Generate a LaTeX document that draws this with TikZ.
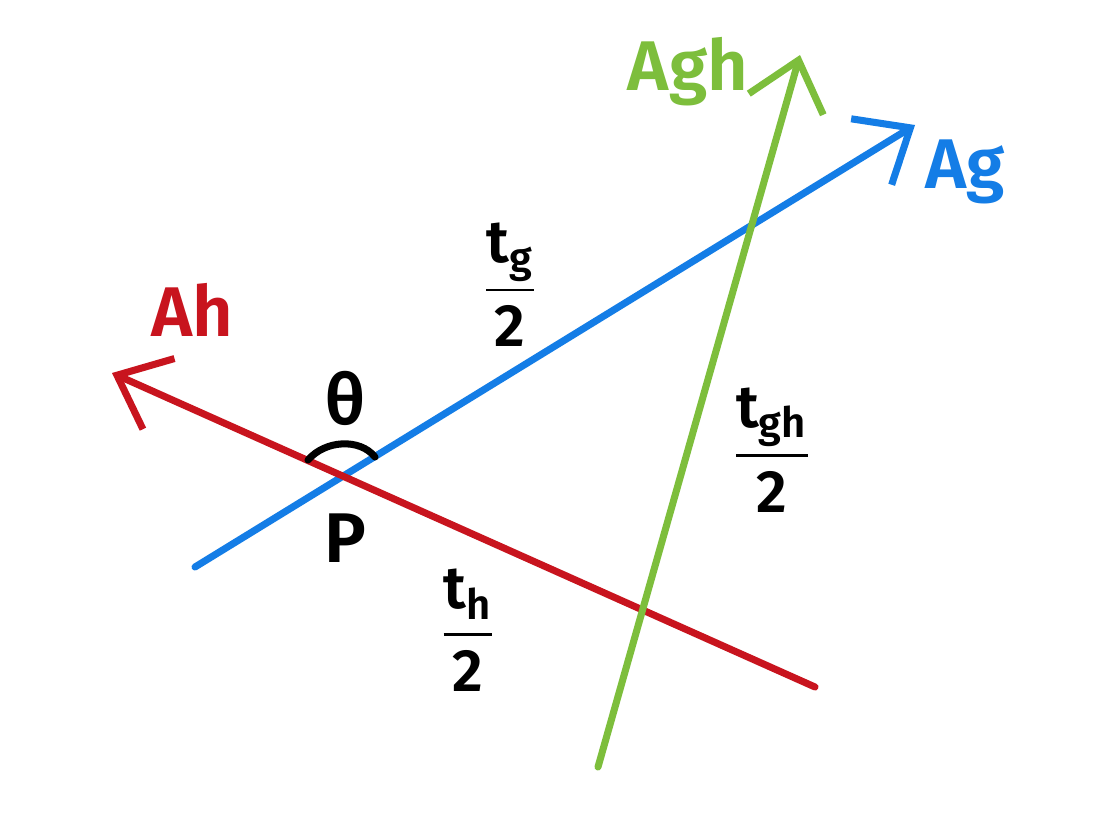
\documentclass[tikz,border=0pt]{standalone}
\usepackage{amsmath}
\usepackage{fontspec}
\setmainfont{Fira Sans}[UprightFont=* SemiBold]
\usetikzlibrary{arrows.meta}
\definecolor{cr}{RGB}{200,20,30}
\definecolor{cb}{RGB}{20,125,230}
\definecolor{cg}{RGB}{125,190,60}
\begin{document}
\begin{tikzpicture}[x=0.01cm,y=-0.01cm,
  axis/.style={line width=2pt,line cap=round,-{Straight Barb[length=13pt,width=22pt,line width=2pt]}},
  lab/.style={font=\fontsize{20}{24}\selectfont},
  fr/.style={font=\fontsize{17}{20}\selectfont}]
\useasboundingbox (0,0) rectangle (1106,821);
\fill[white] (0,0) rectangle (1106,821);
\coordinate (b0) at (195,567); \coordinate (b1) at (915,125);
\coordinate (r0) at (815,687); \coordinate (r1) at (112,373);
\coordinate (g0) at (598,767); \coordinate (g1) at (800,55);
\draw[axis,cb] (b0) -- (b1);
\draw[axis,cr] (r0) -- (r1);
\draw[axis,cg] (g0) -- (g1);
\coordinate (P) at (340,475);
\draw[line width=2pt,line cap=round] (308,460) .. controls (325,440) and (360,438) .. (375,457);
\node[lab,cr] (Ah) at (192,310) {Ah};
\node[lab,cg] (Agh) at (688,72) {Agh};
\node[lab,cb] (Ag) at (965,172) {Ag};
\node[lab] (th) at (345,398) {θ};
\node[lab] (Pl) at (345,538) {P};
\node[fr] (tg) at (510,285) {\(\dfrac{\text{t}_{\text{g}}}{\text{2}}\)};
\node[fr] (thh) at (468,630) {\(\dfrac{\text{t}_{\text{h}}}{\text{2}}\)};
\node[fr] (tgh) at (772,450) {\(\dfrac{\text{t}_{\text{gh}}}{\text{2}}\)};
\end{tikzpicture}
\end{document}
